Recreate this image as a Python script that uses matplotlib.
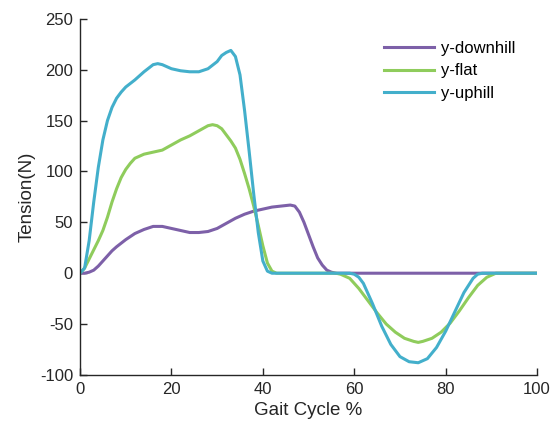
import matplotlib.pyplot as plt

# gait cycle (%) and tension (N)
x_down = [0, 1, 2, 3, 4, 5, 6, 7, 8, 10, 12, 14, 16, 18, 20, 22, 24, 26, 28, 30,
          32, 34, 36, 38, 40, 42, 44, 46, 47, 48, 49, 50, 51, 52, 53, 54, 55, 56, 58, 100]
y_down = [0, 0, 1, 3, 7, 12, 17, 22, 26, 33, 39, 43, 46, 46, 44, 42, 40, 40, 41, 44,
          49, 54, 58, 61, 63, 65, 66, 67, 66, 60, 50, 38, 26, 15, 8, 3, 1, 0, 0, 0]

x_flat = [0, 1, 2, 3, 4, 5, 6, 7, 8, 9, 10, 11, 12, 14, 16, 18, 20, 22, 24, 26, 28,
          29, 30, 31, 32, 33, 34, 35, 36, 37, 38, 39, 40, 41, 42, 43, 56, 57, 59, 61, 63,
          65, 67, 69, 71, 73, 74, 75, 77, 79, 81, 83, 85, 87, 89, 91, 100]
y_flat = [0, 5, 14, 23, 32, 42, 55, 70, 83, 94, 102, 108, 113, 117, 119, 121, 126, 131, 135, 140, 145,
          146, 145, 142, 136, 130, 123, 112, 98, 83, 66, 47, 27, 10, 2, 0, 0, -1, -5, -15, -27,
          -39, -50, -58, -64, -67, -68, -67, -64, -58, -49, -37, -24, -12, -4, 0, 0]

x_up = [0, 1, 2, 3, 4, 5, 6, 7, 8, 9, 10, 12, 14, 16, 17, 18, 20, 22, 24, 26, 28,
        30, 31, 32, 33, 34, 35, 36, 37, 38, 39, 40, 41, 42, 59, 60, 61, 62, 64, 66, 68,
        70, 72, 74, 76, 78, 80, 82, 84, 86, 87, 88, 100]
y_up = [0, 5, 32, 70, 104, 131, 150, 163, 172, 178, 183, 190, 198, 205, 206, 205, 201, 199, 198, 198, 201,
        208, 214, 217, 219, 213, 195, 160, 120, 78, 40, 12, 2, 0, 0, -1, -4, -10, -30, -52, -70,
        -82, -87, -88, -84, -73, -57, -38, -19, -5, -1, 0, 0]

c_down = '#7D60A8'
c_flat = '#8FCC5C'
c_up = '#43AFCB'

plt.rcParams['font.family'] = ['Liberation Sans', 'DejaVu Sans']
plt.rcParams['axes.unicode_minus'] = False

fig = plt.figure(figsize=(5.5, 4.29), dpi=100)
ax = fig.add_axes([0.1455, 0.126, 0.831, 0.830])

ax.plot(x_down, y_down, color=c_down, lw=2.2, label='y-downhill')
ax.plot(x_flat, y_flat, color=c_flat, lw=2.2, label='y-flat')
ax.plot(x_up, y_up, color=c_up, lw=2.2, label='y-uphill')

ax.set_xlim(0, 100)
ax.set_ylim(-100, 250)
ax.set_xticks(range(0, 101, 20))
ax.set_yticks(range(-100, 251, 50))
ax.spines['top'].set_visible(False)
ax.spines['right'].set_visible(False)
for s in ('left', 'bottom'):
    ax.spines[s].set_color('#262626')
    ax.spines[s].set_linewidth(1.0)
ax.tick_params(direction='in', length=5, width=1, colors='#262626', labelsize=12, pad=5)

ax.set_xlabel('Gait Cycle %', fontsize=13.5, color='#262626', labelpad=4)
ax.set_ylabel('Tension(N)', fontsize=13.5, color='#262626', labelpad=3)

ax.legend(loc='upper right', frameon=False, fontsize=12, handlelength=3.0,
          handletextpad=0.4, labelspacing=0.45, bbox_to_anchor=(0.985, 0.98))

fig.savefig('out.png', dpi=100)
